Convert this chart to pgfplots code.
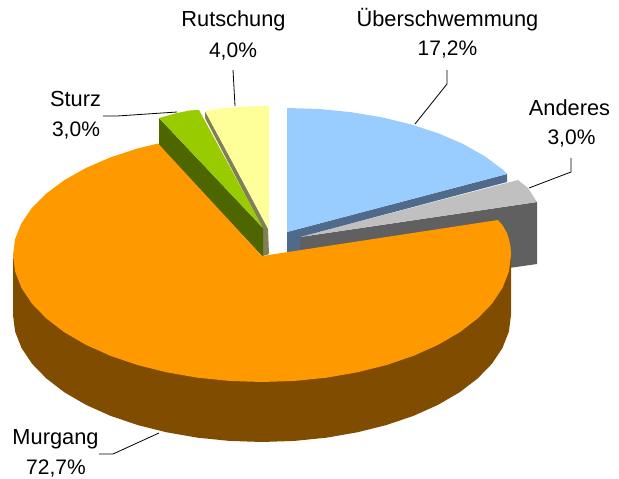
\documentclass[border=0pt]{standalone}
\usepackage{pgfplots}
\pgfplotsset{compat=1.18}
\usepackage{fontspec}
\setmainfont{Liberation Sans}
\definecolor{cblue}{HTML}{99CCFF}
\definecolor{cblued}{HTML}{4F6A8A}
\definecolor{cgrey}{HTML}{C0C0C0}
\definecolor{cgreyd}{HTML}{606060}
\definecolor{corange}{HTML}{FF9900}
\definecolor{cbrown}{HTML}{804D00}
\definecolor{cgreen}{HTML}{99CC00}
\definecolor{cgreend}{HTML}{4D6600}
\definecolor{cyellow}{HTML}{FFFF99}
\definecolor{colive}{HTML}{808050}
\begin{document}
\begin{tikzpicture}[x=1pt,y=1pt]
\useasboundingbox (0,0) rectangle (619,479);
\begin{axis}[
  at={(0,0)},anchor=south west,
  scale only axis,width=619pt,height=479pt,
  xmin=0,xmax=619,ymin=0,ymax=479,y dir=reverse,
  hide axis,clip=false,
  every axis plot/.append style={mark=none,draw=none,forget plot},
]
% Anderes
\addplot[fill=cgreyd] coordinates {(300,237)(537,202)(537,264)(495,270)(300,260)} -- cycle;
\addplot[fill=cgrey] coordinates {(300,237)(518,180)(528,188)(537,202)} -- cycle;
% Ueberschwemmung
\addplot[fill=cblued] coordinates {(287,232)(507,174)(507,182)(300,237)(300,256)(287,256)} -- cycle;
\addplot[fill=cblue] coordinates {(287,232)(287,108)(319.5,109)(351.4,112.2)(382.3,117.4)(411.5,124.5)(438.6,133.4)(463.1,144)(484.6,156.1)(502.6,169.5)(507,174)} -- cycle;
% Rutschung
\addplot[fill=colive] coordinates {(205,111)(268,229)(269,254)(263,256)(263,229)(205,118)} -- cycle;
\addplot[fill=cyellow] coordinates {(205,111)(220,108.3)(245,106.4)(269,106)(269,229)} -- cycle;
% Sturz
\addplot[fill=cgreend] coordinates {(159,118)(263,228)(263,257)(159,147)} -- cycle;
\addplot[fill=cgreen] coordinates {(159,118)(177,113)(190,110.4)(199,110)(263,228)} -- cycle;
% Murgang
\addplot[fill=cbrown] coordinates {(511,258)(511,315)(508.9,331.6)(502.5,347.9)(492.1,363.6)(477.6,378.5)(459.6,392.3)(438.1,404.8)(413.6,415.8)(386.5,425)(357.3,432.3)(326.4,437.7)(294.5,440.9)(262,442)(229.5,440.9)(197.6,437.7)(166.7,432.3)(137.5,425)(110.4,415.8)(85.9,404.8)(64.4,392.3)(46.4,378.5)(31.9,363.6)(21.5,347.9)(15.1,331.6)(13,315)(13,258)} -- cycle;
\addplot[fill=corange] coordinates {(262,256)(498,220)(503,226)(507,233)(508.9,239)(510.6,247)(511,255)(508.9,271.6)(502.5,287.9)(492.1,303.6)(477.6,318.5)(459.6,332.3)(438.1,344.8)(413.6,355.8)(386.5,365)(357.3,372.3)(326.4,377.7)(294.5,380.9)(262,382)(229.5,380.9)(197.6,377.7)(166.7,372.3)(137.5,365)(110.4,355.8)(85.9,344.8)(64.4,332.3)(46.4,318.5)(31.9,303.6)(21.5,287.9)(15.1,271.6)(13,255)(15.1,239)(21.5,223.2)(31.9,207.9)(46.4,193.5)(64.4,180.1)(85.9,168)(110.4,157.4)(137.5,148.5)(158,143.5)} -- cycle;
% Leader lines
\addplot[draw=black,line width=0.8pt] coordinates {(233,70)(235,106)};
\addplot[draw=black,line width=0.8pt] coordinates {(103,116)(117,116)(177,112)};
\addplot[draw=black,line width=0.8pt] coordinates {(447,70)(447,84)(415,124)};
\addplot[draw=black,line width=0.8pt] coordinates {(571,158)(571,172)(529,188)};
\addplot[draw=black,line width=0.8pt] coordinates {(99,454)(113,454)(159,433)};
% Labels
\def\lab#1#2#3#4{\node[anchor=base,inner sep=0pt,font=\fontsize{#4}{#4}\selectfont] at (axis cs:#1,#2) {#3};}
\lab{447.5}{27}{Überschwemmung}{21.8}
\lab{447.5}{56}{17,2\%}{21}
\lab{233.5}{27}{Rutschung}{21.8}
\lab{233}{57}{4,0\%}{21}
\lab{75.5}{106}{Sturz}{21.8}
\lab{76}{136}{3,0\%}{21}
\lab{569.5}{115}{Anderes}{21.8}
\lab{571.5}{144}{3,0\%}{21}
\lab{55.5}{444}{Murgang}{21.8}
\lab{56}{474}{72,7\%}{21}
\end{axis}
\end{tikzpicture}
\end{document}
